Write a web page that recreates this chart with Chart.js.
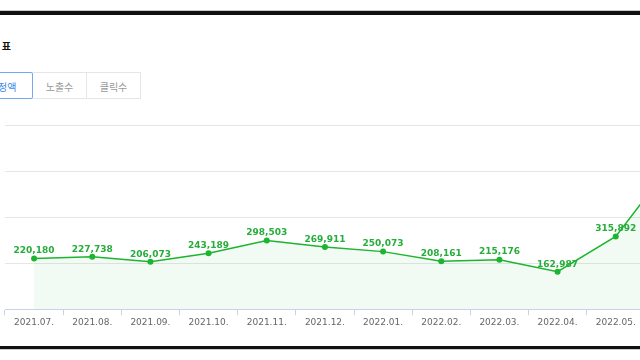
<!DOCTYPE html>
<html>
<head>
<meta charset="utf-8">
<script src="https://cdn.jsdelivr.net/npm/chart.js@4/dist/chart.umd.min.js"></script>
<style>
  html, body { margin: 0; padding: 0; background: #fff; }
  body { width: 640px; height: 360px; overflow: hidden; position: relative; font-family: "Noto Sans CJK KR", "Noto Sans", sans-serif; }
  .edge { position: absolute; left: 0; width: 640px; background: #111; }
  .edgeTop { top: 10px; height: 4px; border-top: 1px solid #ccc; }
  .edgeBot { top: 346px; height: 3px; border-bottom: 1px solid #ccc; }
  .titulo { position: absolute; right: calc(100% - 11px); top: 38px; font-size: 10px; font-weight: bold; color: #111; white-space: nowrap; }
  .abas { position: absolute; top: 72px; left: -60px; display: flex; }
  .aba { height: 27px; line-height: 27px; font-size: 10px; color: #999; border: 1px solid #e4e7ea; background: #fff; text-align: center; box-sizing: border-box; margin-left: -1px; }
  .aba.ativa { color: #3d8be8; border: 1px solid #73a8ec; border-radius: 2px; position: relative; z-index: 1; }
  #caixa { position: absolute; left: 1px; top: 120px; width: 724px; height: 210px; }
</style>
</head>
<body>
<div class="edge edgeTop"></div>
<div class="titulo">성과 &nbsp;표</div>
<div class="abas">
  <div class="aba ativa" style="width:94px;padding-left:24px">결제정액</div>
  <div class="aba" style="width:55px">노출수</div>
  <div class="aba" style="width:55px">클릭수</div>
</div>
<div id="caixa"><canvas id="grafico"></canvas></div>
<div class="edge edgeBot"></div>
<script>
// dados do gráfico
const meses = ["2021.07.", "2021.08.", "2021.09.", "2021.10.", "2021.11.", "2021.12.",
  "2022.01.", "2022.02.", "2022.03.", "2022.04.", "2022.05.", "2022.06."];
const valores = [220180, 227738, 206073, 243189, 298503, 269911,
  250073, 208161, 215176, 162987, 315892, 645000];
const marcasY = [0, 200000, 400000, 600000, 800000];

const verde = "#1cb52f";

// escreve o valor acima de cada ponto
const rotulos = {
  id: "rotulos",
  afterDatasetsDraw(chart) {
    const c = chart.ctx;
    const meta = chart.getDatasetMeta(0);
    c.save();
    c.font = "bold 9px 'DejaVu Sans', sans-serif";
    c.fillStyle = "#27ad3c";
    c.textAlign = "center";
    c.textBaseline = "bottom";
    meta.data.forEach((p, i) => {
      c.fillText(valores[i].toLocaleString("en-US"), p.x, p.y - 3);
    });
    c.restore();
  }
};

new Chart(document.getElementById("grafico"), {
  type: "line",
  data: {
    labels: meses,
    datasets: [{
      data: valores,
      borderColor: verde,
      borderWidth: 1.5,
      backgroundColor: "rgba(60, 190, 80, 0.07)",
      fill: "origin",
      tension: 0,
      pointRadius: 3,
      pointBackgroundColor: verde,
      pointBorderColor: verde,
      pointBorderWidth: 0
    }]
  },
  options: {
    responsive: true,
    maintainAspectRatio: false,
    animation: false,
    layout: { padding: { left: 0, right: 22, top: 5, bottom: 0 } },
    plugins: { legend: { display: false }, tooltip: { enabled: false } },
    scales: {
      x: {
        offset: true,
        border: { color: "#c9d3e8" },
        grid: { offset: true, drawOnChartArea: false, drawTicks: true, tickLength: 6, color: "#c9d3e8" },
        ticks: { color: "#666", font: { size: 9, family: "DejaVu Sans" }, padding: 2, maxRotation: 0, autoSkip: false }
      },
      y: {
        min: 0,
        max: 800000,
        afterBuildTicks: (eixo) => { eixo.ticks = marcasY.map(v => ({ value: v })); },
        border: { display: false },
        grid: { color: "#e6e6e6", drawTicks: false },
        ticks: { display: false }
      }
    }
  },
  plugins: [rotulos]
});
</script>
</body>
</html>
